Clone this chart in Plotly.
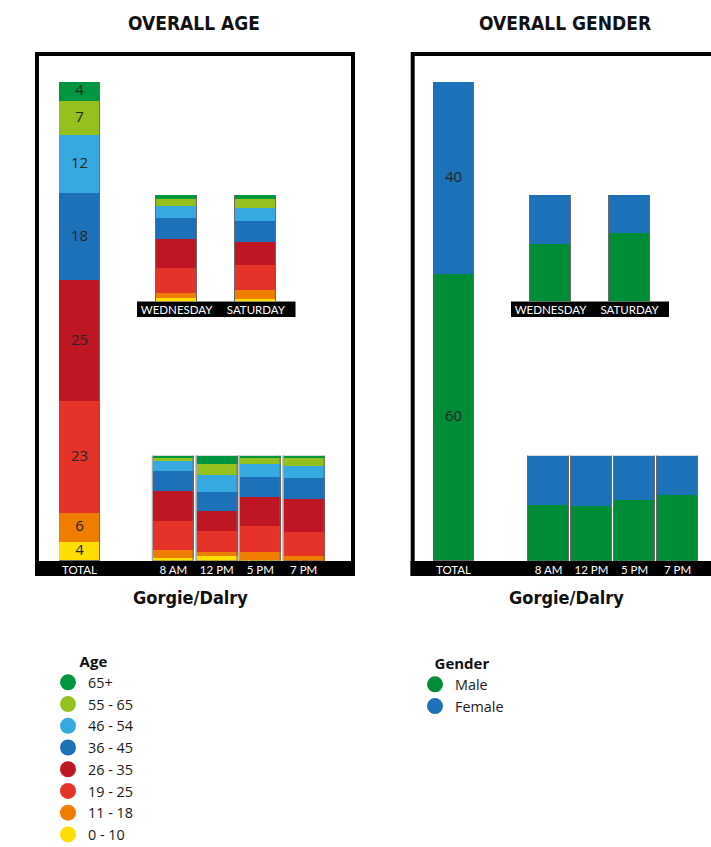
import numpy as np
import plotly.graph_objects as go

W, H = 711, 847

# ---- data -------------------------------------------------------------
age_groups = ["65+", "55 - 65", "46 - 54", "36 - 45", "26 - 35", "19 - 25", "11 - 18", "0 - 10"]
age_colors = ["#009640", "#95C11F", "#36A9E1", "#1D71B8", "#BE1622", "#E6332A", "#EF7D00", "#FFDE00"]

total_label = ["TOTAL"]
day_labels = ["WEDNESDAY", "SATURDAY"]
time_labels = ["8 AM", "12 PM", "5 PM", "7 PM"]

# share (%) per age group, listed from 65+ down to 0 - 10
age_total = [4, 7, 12, 18, 25, 23, 6, 4]
age_wednesday = [4, 6, 12, 19, 28, 23, 5, 3]
age_saturday = [4, 8, 12, 20, 22, 23, 9, 2]
age_8am = [2, 3, 9, 19, 29, 27, 8, 3]
age_12pm = [8, 10, 16, 18, 19, 20, 4, 5]
age_5pm = [1, 7, 12, 19, 27, 25, 8, 1]
age_7pm = [2, 7, 12, 20, 31, 23, 5, 0]

gender_groups = ["Male", "Female"]
gender_colors = ["#008D36", "#1D71B8"]
male_total = [60]
female_total = [40]
male_days = [54, 64]
female_days = [46, 36]
male_times = [54, 53, 58, 63]
female_times = [46, 47, 42, 37]

# ---- styling ----------------------------------------------------------
BODY_FONT = "Open Sans, Lato, sans-serif"
TICK_FONT = "Lato, Open Sans, sans-serif"
TITLE_FONT = "Liberation Sans Narrow, DejaVu Sans Condensed, Roboto, sans-serif"
OUTLINE = "#6a6a6a"


def fx(px):
    return px / W


def fy(py):
    return 1 - py / H


fig = go.Figure()


def add_stack(cats, series, colors, names, ax, width, labels=False):
    """Stack the series bottom-up with explicit bases and draw one outline per column."""
    base = np.zeros(len(cats))
    label_x, label_y, label_t = [], [], []
    for vals, col, name in zip(series, colors, names):
        vals = np.asarray(vals, dtype=float)
        fig.add_trace(go.Bar(
            x=cats, y=vals, base=base.copy(), width=width, name=name,
            marker=dict(color=col, line=dict(width=0)),
            xaxis="x" + ax, yaxis="y" + ax, showlegend=False, hoverinfo="name+y",
        ))
        if labels:
            label_x += list(cats)
            label_y += list(base + vals / 2)
            label_t += [f"{v:g}" for v in vals]
        base += vals
    fig.add_trace(go.Bar(
        x=cats, y=base, base=np.zeros(len(cats)), width=width,
        marker=dict(color="rgba(0,0,0,0)", line=dict(color=OUTLINE, width=1)),
        xaxis="x" + ax, yaxis="y" + ax, showlegend=False, hoverinfo="skip",
    ))
    if labels:
        # value labels centred in each segment
        fig.add_trace(go.Scatter(
            x=label_x, y=label_y, text=label_t, mode="text", textposition="middle center",
            textfont=dict(family=BODY_FONT, size=15, color="#262626"),
            xaxis="x" + ax, yaxis="y" + ax, showlegend=False, hoverinfo="skip", cliponaxis=False,
        ))
    return base


# age panel (series reversed so 0 - 10 sits at the bottom)
rev_names = age_groups[::-1]
rev_colors = age_colors[::-1]


def by_group(*columns):
    return [list(v) for v in zip(*columns)][::-1]


add_stack(total_label, by_group(age_total), rev_colors, rev_names, "", 1.0, labels=True)
add_stack(day_labels, by_group(age_wednesday, age_saturday), rev_colors, rev_names, "2", 41 / 79)
add_stack(time_labels, by_group(age_8am, age_12pm, age_5pm, age_7pm), rev_colors, rev_names, "3", 41 / 43.45)

# gender panel
add_stack(total_label, [male_total, female_total], gender_colors, gender_groups, "4", 1.0, labels=True)
add_stack(day_labels, [male_days, female_days], gender_colors, gender_groups, "5", 41 / 79)
add_stack(time_labels, [male_times, female_times], gender_colors, gender_groups, "6", 41 / 43)

# legend entries drawn as round markers
for name, col in zip(age_groups, age_colors):
    fig.add_trace(go.Scatter(x=[None], y=[None], mode="markers", name=name,
                             marker=dict(size=16, color=col), legend="legend",
                             xaxis="x", yaxis="y"))
for name, col in zip(gender_groups, gender_colors):
    fig.add_trace(go.Scatter(x=[None], y=[None], mode="markers", name=name,
                             marker=dict(size=16, color=col), legend="legend2",
                             xaxis="x4", yaxis="y4"))

# ---- axes -------------------------------------------------------------
subplots = {
    # id: (x domain px, y domain px (top, bottom), y max)
    "": ((59, 100), (82, 561), sum(age_total)),
    "2": ((137, 295.5), (195, 301.5), 100),
    "3": ((151.6, 325.4), (455.5, 561), 100),
    "4": ((433, 474), (82, 561), male_total[0] + female_total[0]),
    "5": ((511, 669), (195, 301.5), 100),
    "6": ((527, 699), (455.5, 561), 100),
}
axis_layout = {}
for k, ((xa, xb), (yt, yb), ymax) in subplots.items():
    axis_layout["xaxis" + k] = dict(
        domain=[fx(xa), fx(xb)], anchor="y" + k, type="category",
        showgrid=False, zeroline=False, showline=False, ticks="",
        tickfont=dict(family=TICK_FONT, size=11.5, color="white"),
        fixedrange=True,
    )
    axis_layout["yaxis" + k] = dict(
        domain=[fy(yb), fy(yt)], anchor="x" + k, range=[0, ymax],
        visible=False, fixedrange=True,
    )

# ---- frames and label bands --------------------------------------------
shapes = [
    dict(type="rect", xref="paper", yref="paper", x0=fx(37), x1=fx(353), y0=fy(574), y1=fy(54),
         line=dict(color="black", width=4), fillcolor="rgba(0,0,0,0)", layer="below"),
    dict(type="rect", xref="paper", yref="paper", x0=fx(412.7), x1=fx(740), y0=fy(574), y1=fy(54),
         line=dict(color="black", width=4), fillcolor="rgba(0,0,0,0)", layer="below"),
    dict(type="rect", xref="paper", yref="paper", x0=fx(35), x1=fx(355), y0=fy(576), y1=fy(561),
         line=dict(width=0), fillcolor="black", layer="below"),
    dict(type="rect", xref="paper", yref="paper", x0=fx(410.5), x1=fx(740), y0=fy(576), y1=fy(561),
         line=dict(width=0), fillcolor="black", layer="below"),
    dict(type="rect", xref="x2 domain", yref="paper", x0=0, x1=1, y0=fy(317), y1=fy(301.5),
         line=dict(width=0), fillcolor="black", layer="below"),
    dict(type="rect", xref="x5 domain", yref="paper", x0=0, x1=1, y0=fy(317), y1=fy(301.5),
         line=dict(width=0), fillcolor="black", layer="below"),
]

annotations = []
for text, cx, cy, size in [("OVERALL AGE", 193.5, 23, 19), ("OVERALL GENDER", 565, 23, 19),
                           ("Gorgie/Dalry", 191, 597, 18), ("Gorgie/Dalry", 566, 597, 18)]:
    annotations.append(dict(text=f"<b>{text}</b>", x=fx(cx), y=fy(cy), xref="paper", yref="paper",
                            xanchor="center", yanchor="middle", showarrow=False,
                            font=dict(family=TITLE_FONT, size=size, color="#111111")))

legend_common = dict(
    xanchor="left", yanchor="top", bgcolor="rgba(0,0,0,0)", borderwidth=0,
    font=dict(family=BODY_FONT, size=14.4, color="#1a1a1a"), itemsizing="trace",
    traceorder="normal", itemclick=False, itemdoubleclick=False,
)

fig.update_layout(
    width=W, height=H, margin=dict(l=0, r=0, t=0, b=0, autoexpand=False),
    paper_bgcolor="white", plot_bgcolor="rgba(0,0,0,0)",
    barmode="overlay", bargap=0,
    showlegend=True,
    legend=dict(x=fx(48), y=fy(647), title=dict(text="<b>Age</b>", side="top center",
                font=dict(family=BODY_FONT, size=15, color="#111111")), **legend_common),
    legend2=dict(x=fx(415), y=fy(649), title=dict(text="<b>Gender</b>", side="top center",
                 font=dict(family=BODY_FONT, size=15, color="#111111")), **legend_common),
    shapes=shapes, annotations=annotations,
    **axis_layout,
)

fig.write_html("out.html")
